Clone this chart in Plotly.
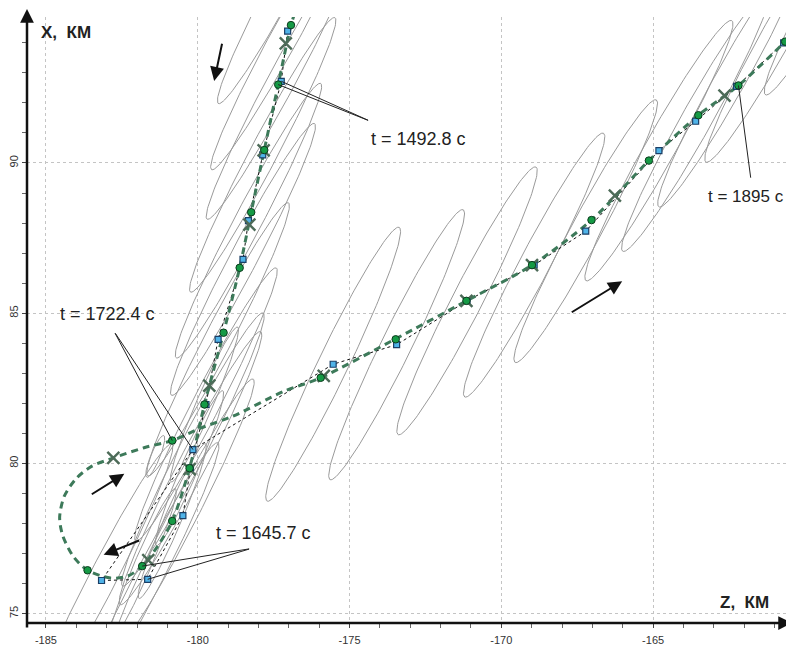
import numpy as np
import plotly.graph_objects as go

# ---------------- data ----------------
# smoothed trajectory (green dashed)
traj_z = [-176.80, -176.93, -177.35, -177.81, -178.24, -178.62, -179.15, -179.78, -180.27,
          -180.84, -181.33, -181.83, -182.30, -182.87, -183.63, -184.10, -184.45, -184.55,
          -184.40, -184.00, -183.50, -182.78, -181.77, -180.84, -179.91, -178.82, -177.18,
          -175.95, -173.51, -171.15, -168.99, -167.03, -165.14, -163.51, -162.19, -160.65,
          -160.20]
traj_x = [95.00, 94.59, 92.61, 90.43, 88.36, 86.51, 84.35, 81.96, 79.84,
          78.08, 77.23, 76.58, 76.25, 76.18, 76.44, 76.90, 77.60, 78.20,
          78.90, 79.50, 79.90, 80.18, 80.52, 80.76, 81.17, 81.58, 82.39,
          82.85, 84.13, 85.41, 86.60, 88.10, 90.08, 91.59, 92.58, 94.04,
          94.50]

# filtered estimates (green circles)
circ_z = [-176.93, -177.35, -177.81, -178.24, -178.62, -179.15, -179.78, -180.27, -180.84,
          -181.83, -183.63, -180.84, -175.95, -173.48, -171.15, -168.99, -167.03, -165.14,
          -163.51, -162.19, -160.65]
circ_x = [94.59, 92.61, 90.43, 88.36, 86.51, 84.35, 81.96, 79.84, 78.08,
          76.58, 76.44, 80.76, 82.85, 84.13, 85.41, 86.60, 88.10, 90.08,
          91.59, 92.58, 94.04]

# measurements (blue squares, joined by black dashed line)
sq_z = [-177.04, -177.25, -177.86, -178.33, -178.51, -179.33, -179.73, -180.24, -180.49,
        -181.65, -183.17, -180.16, -175.54, -173.45, -171.13, -168.92, -167.22, -164.81,
        -163.60, -162.25, -160.70]
sq_x = [94.39, 92.72, 90.27, 88.08, 86.79, 84.13, 81.96, 79.84, 78.26,
        76.14, 76.10, 80.46, 83.30, 83.95, 85.41, 86.60, 87.73, 90.41,
        91.39, 92.55, 94.00]

# reference points (crosses)
cross_z = [-177.10, -177.83, -178.30, -179.62, -180.27, -181.63, -182.78, -175.85,
           -171.15, -168.99, -166.26, -162.65]
cross_x = [93.98, 90.42, 87.95, 82.59, 79.81, 76.78, 80.18, 82.91,
           85.41, 86.60, 88.91, 92.24]

# error ellipses: centre, semi-axes, orientation (deg)
ell_z = [-176.88, -177.04, -177.25, -177.86, -178.33, -178.51, -179.33, -179.73, -180.24,
         -180.49, -181.65, -183.17, -180.16, -175.54, -173.45, -171.13, -168.92, -167.22,
         -164.81, -163.60, -162.41, -160.86, -158.90,
         -181.40, -179.78, -180.27, -180.84, -181.83]
ell_x = [96.57, 94.39, 92.72, 90.27, 88.08, 86.79, 84.13, 81.96, 79.84,
         78.26, 76.14, 76.10, 80.46, 83.30, 83.95, 85.41, 86.60, 87.73,
         90.41, 91.39, 92.87, 94.36, 96.60,
         80.23, 81.96, 79.84, 78.08, 76.58]
ell_a = [5.2, 5.25, 5.2, 5.15, 5.15, 5.1, 5.1, 5.1, 5.1,
         5.1, 5.1, 5.1, 5.1, 5.05, 5.0, 5.0, 4.95, 4.95,
         4.95, 4.95, 4.95, 4.95, 4.95,
         0.75, 2.8, 2.8, 2.8, 2.8]
ell_b = [0.45, 0.45, 0.45, 0.45, 0.45, 0.45, 0.45, 0.45, 0.45,
         0.45, 0.45, 0.45, 0.45, 0.5, 0.5, 0.5, 0.5, 0.5,
         0.5, 0.5, 0.5, 0.5, 0.5,
         0.15, 0.28, 0.28, 0.28, 0.28]
ell_ang = [62, 61.5, 62, 62.5, 62.5, 62.5, 63, 63, 63,
           63, 63, 63, 63, 64.5, 64, 63, 62.5, 62,
           61, 61, 61, 61, 61,
           68, 67, 67, 67, 67]

x_ticks = [-185, -180, -175, -170, -165]
y_ticks = [75, 80, 85, 90]

# ---------------- figure ----------------
fig = go.Figure()

# ellipses
ez, ex = [], []
t = np.linspace(0, 2 * np.pi, 181)
for zc, xc, a, b, ang in zip(ell_z, ell_x, ell_a, ell_b, ell_ang):
    th = np.deg2rad(ang)
    ez += list(zc + a * np.cos(t) * np.cos(th) - b * np.sin(t) * np.sin(th)) + [None]
    ex += list(xc + a * np.cos(t) * np.sin(th) + b * np.sin(t) * np.cos(th)) + [None]
fig.add_trace(go.Scatter(x=ez, y=ex, mode="lines", line=dict(color="#9a9a9a", width=1),
                         hoverinfo="skip", showlegend=False))

# measurement line
fig.add_trace(go.Scatter(x=sq_z, y=sq_x, mode="lines",
                         line=dict(color="#111111", width=1, dash="3px,3px"),
                         showlegend=False, hoverinfo="skip"))
# trajectory
fig.add_trace(go.Scatter(x=traj_z, y=traj_x, mode="lines",
                         line=dict(color="#3d7a5a", width=3, dash="7px,5px", shape="spline", smoothing=0.8),
                         showlegend=False, hoverinfo="skip"))
# squares
fig.add_trace(go.Scatter(x=sq_z, y=sq_x, mode="markers",
                         marker=dict(symbol="square", size=6, color="#4fb3e8",
                                     line=dict(color="#1b3f66", width=1.2)),
                         showlegend=False))
# crosses
fig.add_trace(go.Scatter(x=cross_z, y=cross_x, mode="markers",
                         marker=dict(symbol="x-thin", size=12, color="#4d6b58",
                                     line=dict(color="#4d6b58", width=2.4)),
                         showlegend=False))
# circles
fig.add_trace(go.Scatter(x=circ_z, y=circ_x, mode="markers",
                         marker=dict(symbol="circle", size=7.5, color="#159a45",
                                     line=dict(color="#0d3b1e", width=1)),
                         showlegend=False))

anns = []
txt_font = dict(family="Liberation Sans, Arial", size=18, color="#222222")

def leader(tail, head):
    anns.append(dict(x=head[0], y=head[1], ax=tail[0], ay=tail[1], xref="x", yref="y",
                     axref="x", ayref="y", text="", showarrow=True, arrowhead=0,
                     arrowwidth=1, arrowcolor="#222222", standoff=0, startstandoff=0))

def label(pos, text, anchor="center", size=18):
    anns.append(dict(x=pos[0], y=pos[1], xref="x", yref="y", text=text, showarrow=False,
                     font=dict(family="Liberation Sans, Arial", size=size, color="#222222"),
                     xanchor=anchor, yanchor="middle"))

# t = 1492.8 c
label((-172.73, 90.81), "t = 1492.8 c")
leader((-174.34, 91.40), (sq_z[1], sq_x[1]))
leader((-174.34, 91.40), (circ_z[1], circ_x[1]))
# t = 1895 c
label((-160.62, 88.90), "t = 1895 c", anchor="right", size=17)
leader((-161.78, 89.46), (circ_z[19], circ_x[19]))
# t = 1722.4 c
label((-182.96, 84.97), "t = 1722.4 c")
leader((-182.75, 84.38), (circ_z[11], circ_x[11]))
leader((-182.75, 84.38), (sq_z[11], sq_x[11]))
# t = 1645.7 c
label((-177.83, 77.69), "t = 1645.7 c")
leader((-178.26, 77.16), (circ_z[9], circ_x[9]))
leader((-178.26, 77.16), (sq_z[9], sq_x[9]))

# direction arrows
def dir_arrow(tail, head):
    anns.append(dict(x=head[0], y=head[1], ax=tail[0], ay=tail[1], xref="x", yref="y",
                     axref="x", ayref="y", text="", showarrow=True, arrowhead=2,
                     arrowsize=1.4, arrowwidth=2, arrowcolor="#111111", standoff=0))

dir_arrow((-179.19, 94.02), (-179.46, 92.73))
dir_arrow((-167.73, 85.00), (-166.02, 86.06))
dir_arrow((-183.54, 78.94), (-182.42, 79.65))
dir_arrow((-181.88, 77.45), (-183.10, 76.96))

# axes arrows
anns.append(dict(x=0, y=1.0131, xref="paper", yref="paper", ax=0, ay=620, axref="pixel",
                 ayref="pixel", text="", showarrow=True, arrowhead=2, arrowsize=1.1,
                 arrowwidth=2.5, arrowcolor="#111111", standoff=0))
anns.append(dict(x=0.9974, y=0, xref="paper", yref="paper", ax=-766, ay=0, axref="pixel",
                 ayref="pixel", text="", showarrow=True, arrowhead=2, arrowsize=1.1,
                 arrowwidth=2.5, arrowcolor="#111111", standoff=0))
# axis titles
anns.append(dict(x=0.0156, y=0.974, xref="paper", yref="paper", text="<b>X,  КМ</b>",
                 showarrow=False, xanchor="left", yanchor="middle",
                 font=dict(family="Liberation Sans, Arial", size=17, color="#222222")))
anns.append(dict(x=0.970, y=0.034, xref="paper", yref="paper", text="<b>Z,  КМ</b>",
                 showarrow=False, xanchor="right", yanchor="middle",
                 font=dict(family="Liberation Sans, Arial", size=17, color="#222222")))

# the page body adds an 8 px offset, so the figure is 8 px smaller and margins compensate
fig.update_layout(
    width=786, height=638,
    margin=dict(l=18, r=0, t=9, b=17),
    paper_bgcolor="white", plot_bgcolor="white",
    annotations=anns,
    showlegend=False,
    xaxis=dict(range=[-185.625, -160.36], tickvals=x_ticks, ticktext=[str(v) for v in x_ticks],
               showgrid=True, gridcolor="#c4c4c4", griddash="dot", gridwidth=1,
               zeroline=False, showline=False, ticks="outside", ticklen=4, tickcolor="#444",
               ticklabelstandoff=3,
               tickfont=dict(family="Liberation Sans, Arial", size=11, color="#333"),
               minor=dict(dtick=1, tick0=0, ticks="outside", ticklen=4, tickcolor="#666", showgrid=False)),
    yaxis=dict(range=[74.685, 94.86], tickvals=y_ticks, ticktext=[str(v) for v in y_ticks],
               showgrid=True, gridcolor="#c4c4c4", griddash="dot", gridwidth=1,
               zeroline=False, showline=False, ticks="outside", ticklen=4, tickcolor="#444",
               tickangle=-90,
               tickfont=dict(family="Liberation Sans, Arial", size=11, color="#333"),
               minor=dict(dtick=1, tick0=0, ticks="outside", ticklen=4, tickcolor="#666", showgrid=False)),
)

fig.write_html("out.html")
